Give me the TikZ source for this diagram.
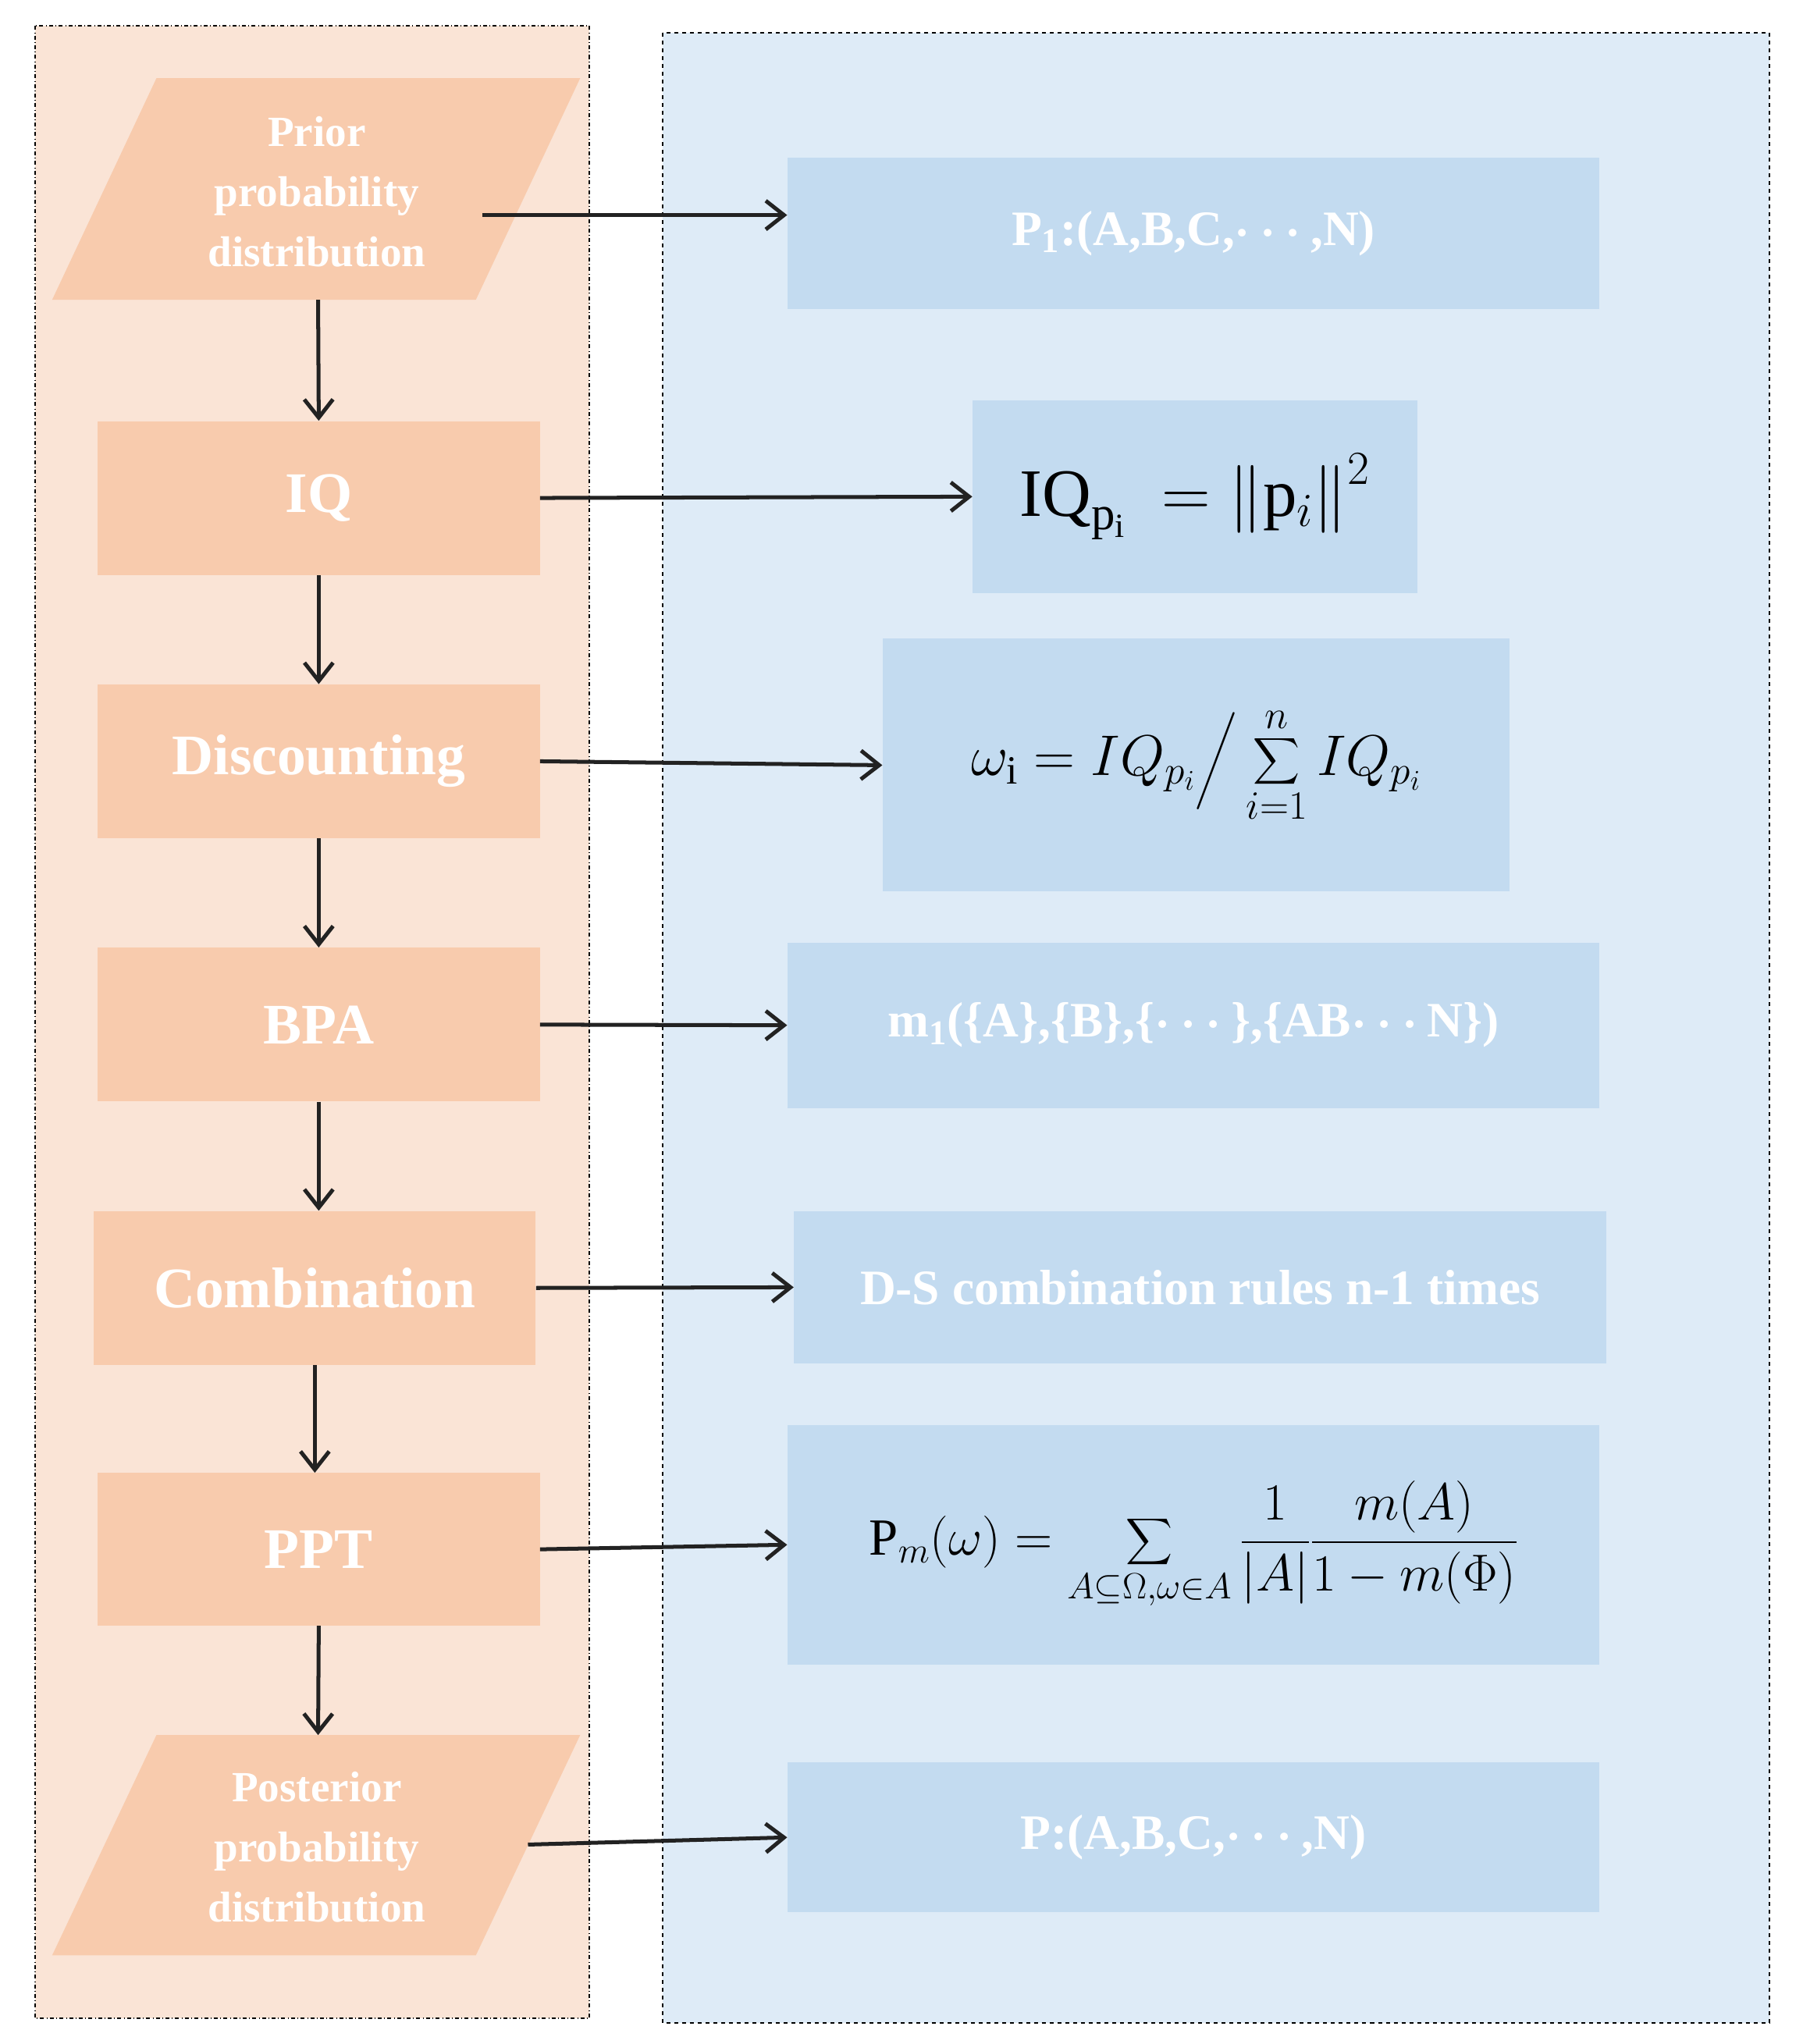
\documentclass[tikz,border=0pt]{standalone}
\usepackage{fix-cm}
\usepackage{amsmath}
\usepackage{fontspec}
\setmainfont{Liberation Serif}
\usetikzlibrary{arrows.meta}
\definecolor{lbg}{HTML}{FAE4D6}
\definecolor{rbg}{HTML}{DEEBF7}
\definecolor{lbox}{HTML}{F8CBAD}
\definecolor{rbox}{HTML}{C3DBF0}
\definecolor{arr}{HTML}{222222}
\tikzset{
 lb/.style={fill=lbox,draw=none,text=white,font=\fontsize{44}{50}\selectfont\bfseries,inner sep=0pt},
 rb/.style={fill=rbox,draw=none,text=white,font=\fontsize{38}{44}\selectfont\bfseries\boldmath,inner sep=0pt},
 fm/.style={fill=rbox,draw=none,text=black,font=\fontsize{40}{46}\selectfont,inner sep=0pt},
 pt/.style={text=white,font=\fontsize{33}{46}\selectfont\bfseries,align=center},
 ar/.style={draw=arr,line width=3pt,-{Straight Barb[length=14pt,width=22pt,line width=3pt]}},
}
\begin{document}
\begin{tikzpicture}[x=1pt,y=-1pt]
\useasboundingbox (0,0) rectangle (1383,1568);
\draw[fill=lbg,dash dot,line width=1.2pt] (27,20) rectangle (452,1548);
\draw[fill=rbg,dashed,line width=1.2pt] (508,25) rectangle (1357,1552);
% parallelograms
\fill[lbox] (120,60)--(445,60)--(365,230)--(40,230)--cycle;
\fill[lbox] (120,1331)--(445,1331)--(365,1500)--(40,1500)--cycle;
\node[pt] (prior) at (243,147) {Prior\\probability\\distribution};
\node[pt] (post) at (243,1417) {Posterior\\probability\\distribution};
\coordinate (priorR) at (370,165);
\coordinate (priorB) at (244,230);
\coordinate (postR) at (405,1415);
\coordinate (postT) at (244,1331);
% left boxes
\node[lb,minimum width=339pt,minimum height=118pt] (iq) at (244.5,382) {IQ};
\node[lb,minimum width=339pt,minimum height=118pt] (disc) at (244.5,584) {Discounting};
\node[lb,minimum width=339pt,minimum height=118pt] (bpa) at (244.5,786) {BPA};
\node[lb,minimum width=339pt,minimum height=118pt] (comb) at (241.5,988) {Combination};
\node[lb,minimum width=339pt,minimum height=117pt] (ppt) at (244.5,1188.5) {PPT};
% right boxes
\node[rb,minimum width=623pt,minimum height=116pt] (p1) at (915.5,179) {P\textsubscript{1}:(A,B,C,$\cdots$,N)};
\node[fm,minimum width=341pt,minimum height=148pt] (fiq) at (916.5,381) {\fontsize{52}{58}\selectfont $\mathrm{IQ}_{\mathrm{p_i}}\ =\left\Vert \mathrm{p}_{i}\right\Vert^{2}$};
\node[fm,minimum width=481pt,minimum height=194pt] (fw) at (917.5,587) {\fontsize{44}{50}\selectfont $\omega_{\mathrm{i}}=IQ_{p_i}\Big/\displaystyle\sum_{i=1}^{n} IQ_{p_i}$};
\node[rb,minimum width=623pt,minimum height=127pt] (m1) at (915.5,786.5) {m\textsubscript{1}(\{A\},\{B\},\{$\cdots$\},\{AB$\cdots$N\})};
\node[rb,minimum width=623pt,minimum height=117pt] (ds) at (920.5,987.5) {D-S combination rules n-1 times};
\node[fm,minimum width=623pt,minimum height=184pt] (fp) at (915.5,1185) {\fontsize{40}{46}\selectfont $\mathrm{P}_{m}(\omega)=\displaystyle\sum_{A\subseteq\Omega,\omega\in A}\frac{1}{\left|A\right|}\frac{m(A)}{1-m(\Phi)}$};
\node[rb,minimum width=623pt,minimum height=115pt] (p) at (915.5,1409.5) {P:(A,B,C,$\cdots$,N)};
% horizontal arrows
\draw[ar] (priorR) -- (priorR -| p1.west);
\draw[ar] (iq.east) -- (fiq.west);
\draw[ar] (disc.east) -- (fw.west);
\draw[ar] (bpa.east) -- (m1.west);
\draw[ar] (comb.east) -- (ds.west);
\draw[ar] (ppt.east) -- (fp.west);
\draw[ar] (postR) -- (p.west);
% vertical arrows
\draw[ar] (priorB) -- (iq.north);
\draw[ar] (iq.south) -- (disc.north);
\draw[ar] (disc.south) -- (bpa.north);
\draw[ar] (bpa.south) -- (bpa.south|-comb.north);
\draw[ar] (comb.south) -- (comb.south|-ppt.north);
\draw[ar] (ppt.south) -- (postT);
\end{tikzpicture}
\end{document}
